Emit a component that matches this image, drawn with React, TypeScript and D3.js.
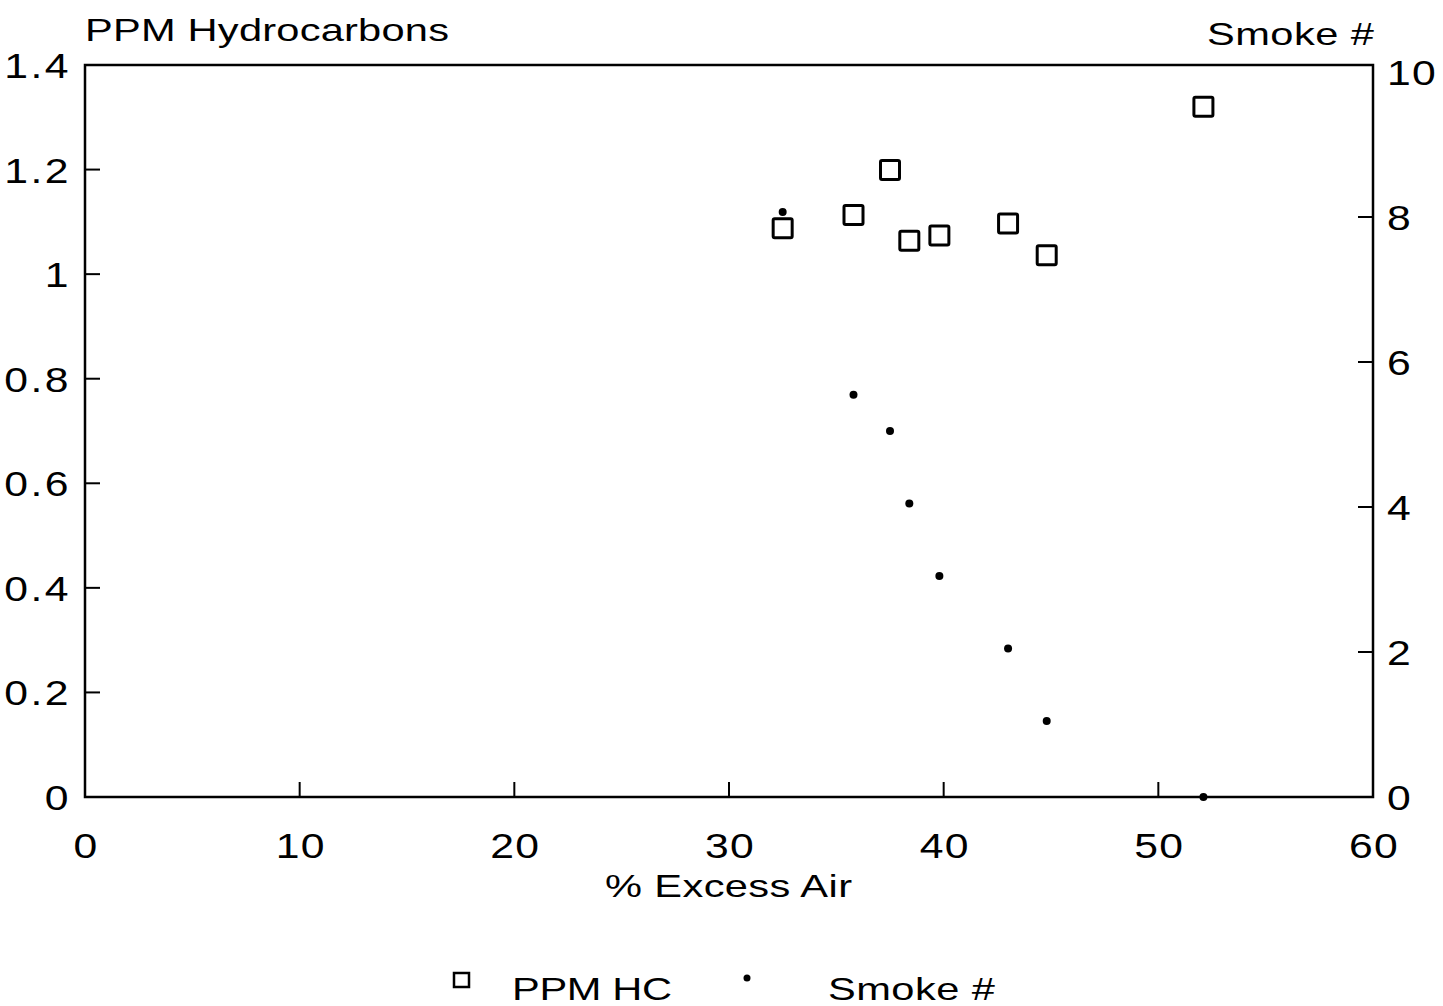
import React from "react";
import * as d3 from "d3";

const excessAir = [32.5, 35.8, 37.5, 38.4, 39.8, 43.0, 44.8, 52.1];
const ppmHC = [1.088, 1.113, 1.199, 1.064, 1.074, 1.097, 1.036, 1.32];
const smoke = [8.07, 5.55, 5.05, 4.05, 3.05, 2.05, 1.05, 0];
const xTicks = [0, 10, 20, 30, 40, 50, 60];
const leftTicks = [0, 0.2, 0.4, 0.6, 0.8, 1, 1.2, 1.4];
const rightTicks = [0, 2, 4, 6, 8, 10];

const W = 1443;
const H = 1006;
const L = 85, R = 1373, T = 65, B = 797;
const font = "'Liberation Sans', Arial, sans-serif";

type STProps = {
  x: number; y: number; s?: number; size?: number; anchor?: string; len?: number; ls?: number;
  children: React.ReactNode;
};
function ST({ x, y, s = 1.3, size = 32, anchor = "start", len, ls = 0, children }: STProps) {
  return (
    <text
      transform={`translate(${x},${y}) scale(${s},1)`}
      fontFamily={font}
      fontSize={size}
      fill="#000"
      textAnchor={anchor}
      letterSpacing={ls}
      {...(len ? { textLength: len / s, lengthAdjust: "spacing" } : {})}
    >
      {children}
    </text>
  );
}

export default function App() {
  const x = d3.scaleLinear().domain([0, 60]).range([L, R]);
  const yL = d3.scaleLinear().domain([0, 1.4]).range([B, T]);
  const yR = d3.scaleLinear().domain([0, 10]).range([B, 72]);
  const tick = 15;
  const fmtL = (v: number) => (v === 0 ? "0" : v === 1 ? "1" : d3.format(".1f")(v));
  const sq = 19;
  return (
    <svg width={W} height={H} style={{ position: "absolute", left: 0, top: 0, background: "#fff" }}>
      <ST x={85} y={41} len={364}>PPM Hydrocarbons</ST>
      <ST x={1207} y={45} len={167}>Smoke #</ST>
      <rect x={L} y={T} width={R - L} height={B - T} fill="none" stroke="#000" strokeWidth={2.5} />
      {xTicks.slice(1, -1).map((v) => (
        <line key={"xt" + v} x1={x(v)} x2={x(v)} y1={B} y2={B - tick} stroke="#000" strokeWidth={2} />
      ))}
      {leftTicks.slice(1, -1).map((v) => (
        <line key={"lt" + v} x1={L} x2={L + tick} y1={yL(v)} y2={yL(v)} stroke="#000" strokeWidth={2} />
      ))}
      {rightTicks.slice(1, -1).map((v) => (
        <line key={"rt" + v} x1={R} x2={R - tick} y1={yR(v)} y2={yR(v)} stroke="#000" strokeWidth={2} />
      ))}
      {xTicks.map((v) => (
        <ST key={"xl" + v} x={x(v) + 1} y={B + 61} s={1.22} size={35} anchor="middle" ls={1}>{v}</ST>
      ))}
      {leftTicks.map((v) => (
        <ST key={"ll" + v} x={L - 14} y={yL(v) + 13} s={1.22} size={35} anchor="end" ls={2}>{fmtL(v)}</ST>
      ))}
      {rightTicks.map((v) => (
        <ST key={"rl" + v} x={R + 14} y={yR(v) + 13} s={1.22} size={35} anchor="start" ls={1}>{v}</ST>
      ))}
      <ST x={605} y={897} len={247}>% Excess Air</ST>
      {excessAir.map((v, i) => (
        <rect key={"s" + i} x={x(v) - sq / 2} y={yL(ppmHC[i]) - sq / 2} width={sq} height={sq}
          fill="none" stroke="#000" strokeWidth={3} rx={1.5} />
      ))}
      {excessAir.map((v, i) => (
        <circle key={"d" + i} cx={x(v)} cy={yR(smoke[i])} r={4} fill="#000" />
      ))}
      <rect x={454} y={973} width={15} height={14} fill="none" stroke="#000" strokeWidth={2.5} />
      <ST x={512} y={1000} len={160}>PPM HC</ST>
      <circle cx={747} cy={978} r={3.5} fill="#000" />
      <ST x={828} y={1000} len={167}>Smoke #</ST>
    </svg>
  );
}
